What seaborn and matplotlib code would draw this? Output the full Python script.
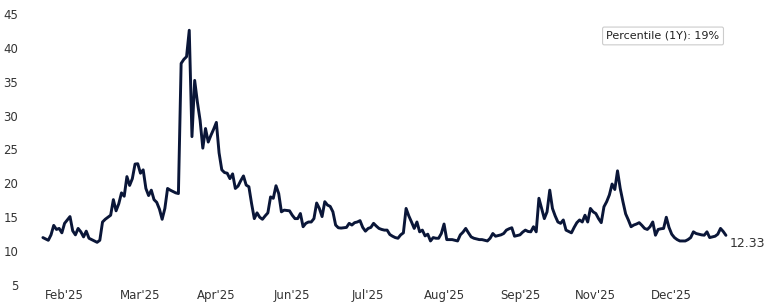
import numpy as np
import pandas as pd
import seaborn as sns
import matplotlib
matplotlib.use("Agg")
import matplotlib.pyplot as plt

# ---- data ----
values = [
    12.0, 11.8, 11.6, 12.4, 13.8, 13.2, 13.35, 12.7, 14.1, 14.6,
    15.1, 13.0, 12.4, 13.35, 12.85, 12.1, 12.95, 11.9, 11.7, 11.5,
    11.3, 11.6, 14.3, 14.7, 15.0, 15.3, 17.6, 15.95, 17.0, 18.6,
    18.1, 21.0, 19.7, 20.7, 22.85, 22.9, 21.5, 22.0, 19.25, 18.2,
    19.0, 17.6, 17.2, 16.2, 14.7, 16.3, 19.25, 19.0, 18.8, 18.6,
    18.5, 37.7, 38.3, 38.7, 42.6, 26.9, 35.2, 32.0, 29.3, 25.2,
    28.1, 26.1, 27.1, 28.0, 29.0, 24.5, 22.0, 21.6, 21.5, 20.7,
    21.4, 19.25, 19.6, 20.4, 21.1, 19.75, 19.5, 17.0, 14.8, 15.65,
    15.0, 14.7, 15.2, 15.65, 18.0, 17.8, 19.65, 18.5, 15.8, 16.05,
    16.0, 15.95, 15.3, 14.8, 14.8, 15.55, 13.6, 14.1, 14.3, 14.3,
    14.8, 17.1, 16.3, 15.1, 17.3, 16.8, 16.6, 15.8, 13.85, 13.45,
    13.4, 13.45, 13.5, 14.1, 13.85, 14.2, 14.3, 14.5, 13.5, 12.95,
    13.35, 13.5, 14.1, 13.7, 13.35, 13.2, 13.1, 13.1, 12.45, 12.2,
    12.0, 11.9, 12.4, 12.7, 16.3, 15.2, 14.3, 13.35, 14.3, 12.85,
    13.1, 12.25, 12.5, 11.5, 12.0, 11.9, 11.9, 12.6, 14.0, 11.7,
    11.7, 11.7, 11.6, 11.5, 12.4, 12.8, 13.35, 12.7, 12.1, 11.9,
    11.8, 11.7, 11.7, 11.6, 11.5, 11.9, 12.6, 12.2, 12.3, 12.4,
    12.6, 13.1, 13.3, 13.45, 12.2, 12.3, 12.4, 12.8, 13.1, 12.9,
    12.85, 13.6, 12.85, 17.8, 16.3, 14.8, 15.8, 19.0, 16.3, 15.2,
    14.3, 14.1, 14.6, 13.1, 12.9, 12.7, 13.5, 14.2, 14.6, 14.3,
    15.3, 14.3, 16.3, 15.8, 15.55, 14.8, 14.2, 16.55, 17.3, 18.3,
    19.9, 19.1, 21.85, 19.25, 17.3, 15.5, 14.6, 13.6, 13.85, 14.0,
    14.2, 13.8, 13.35, 13.2, 13.6, 14.3, 12.35, 13.2, 13.3, 13.35,
    15.0, 13.5, 12.5, 12.0, 11.7, 11.5, 11.5, 11.5, 11.7, 12.0,
    12.85, 12.6, 12.5, 12.4, 12.35, 12.85, 12.0, 12.1, 12.2, 12.5,
    13.35, 12.9, 12.33,
]
tick_labels = ["Feb'25", "Mar'25", "Apr'25", "Jun'25", "Jul'25",
               "Aug'25", "Sep'25", "Nov'25", "Dec'25"]
y_ticks = [5, 10, 15, 20, 25, 30, 35, 40, 45]
last_label = "12.33"
percentile_text = "Percentile (1Y): 19%"

df = pd.DataFrame({"idx": np.arange(len(values)), "value": values})

sns.set_style("white")
plt.rcParams["font.family"] = ["DejaVu Sans"]

fig = plt.figure(figsize=(7.68, 3.05), dpi=100)
W, H = 768, 305
ax = fig.add_axes([25 / W, (H - 285) / H, (730 - 25) / W, (285 - 14) / H])

line_color = "#0a1638"
sns.lineplot(data=df, x="idx", y="value", ax=ax, color=line_color,
             linewidth=2.1)

n = len(values)
ax.set_xlim(-6.6, 253.5)
ax.set_ylim(5, 45)
ax.set_yticks(y_ticks)
ax.set_yticklabels([str(v) for v in y_ticks])
ax.set_xticks(np.arange(8, n, 28)[:len(tick_labels)])
ax.set_xticklabels(tick_labels)
ax.tick_params(axis="both", length=0, labelsize=8.5, colors="#333333")
ax.tick_params(axis="y", pad=5)
ax.tick_params(axis="x", pad=3)
ax.set_xlabel("")
ax.set_ylabel("")
for s in ax.spines.values():
    s.set_visible(False)
ax.grid(False)

ax.annotate(last_label, xy=(n - 1, values[-1]), xytext=(3, -1),
            textcoords="offset points", ha="left", va="top",
            fontsize=9, color="#333333", annotation_clip=False)

ax.text(0.905, 0.919, percentile_text, transform=ax.transAxes,
        ha="center", va="center", fontsize=8, color="#222222",
        bbox=dict(boxstyle="round,pad=0.35,rounding_size=0.15",
                  facecolor="white", edgecolor="#cccccc", linewidth=0.8))

fig.savefig("out.png", dpi=100)
